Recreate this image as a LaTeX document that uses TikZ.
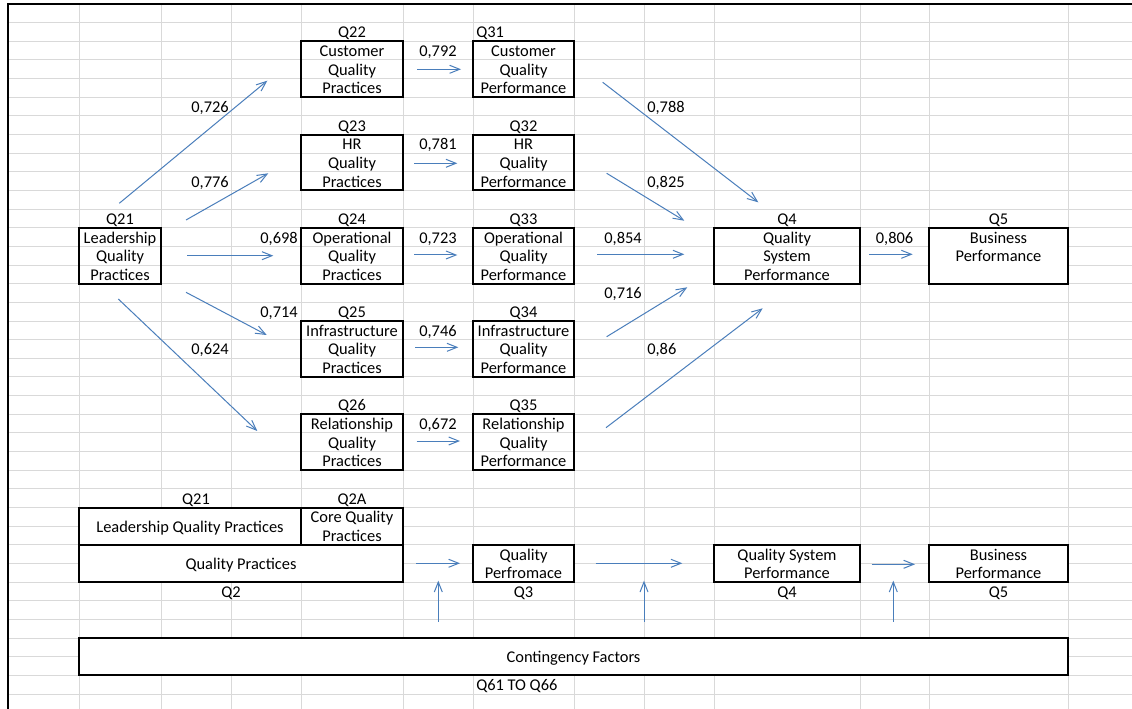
\documentclass[tikz,border=0pt]{standalone}
\usepackage{fontspec}
\setmainfont{Carlito}
\usetikzlibrary{arrows.meta}
\definecolor{gridgray}{RGB}{217,217,217}
\definecolor{arrowblue}{RGB}{74,126,187}
% one spreadsheet row: baseline sits a little above the lower row line
\newcommand\rowstrut{\rule[-2.55pt]{0pt}{13.9875pt}}
\begin{document}
\begin{tikzpicture}[x=0.75pt,y=-13.9875pt,
  every node/.style={font=\fontsize{12.3pt}{13.9875pt}\selectfont, inner sep=0pt},
  grid/.style={draw=gridgray, line width=0.75pt},
  frame/.style={draw=black, line width=1.5pt},
  box/.style={draw=black, line width=1.5pt, inner sep=0pt, outer sep=0pt, align=center},
  merged/.style={box, fill=white},
  span/.style 2 args={minimum width=#1*0.75pt, minimum height=#2*13.9875pt},
  arr/.style={draw=arrowblue, line width=0.75pt, -{Straight Barb[length=7.5pt,width=6pt]}},
]
\fill[white] (0,-0.2145) rectangle (1132,37.8016);
\useasboundingbox (0,-0.2145) rectangle (1132,37.8016);

% sheet grid
\foreach \k in {1,...,37} \draw[grid] (8,\k) -- (1132,\k);
\foreach \x in {79,161,231,301,403,473,574,644,714,860,929,1068}
  \draw[grid] (\x,0) -- (\x,37.8016);
% sheet frame
\draw[frame] (8,37.8016) -- (8,0) -- (1132,0);

% ---------- path model ----------
\node[box, span={82}{3}] (q21) at (120,13.5) {\rowstrut Leadership\\\rowstrut Quality\\\rowstrut Practices};
\node[box, span={102}{3}] (q22) at (352,3.5) {\rowstrut Customer\\\rowstrut Quality\\\rowstrut Practices};
\node[box, span={102}{3}] (q23) at (352,8.5) {\rowstrut HR\\\rowstrut Quality\\\rowstrut Practices};
\node[box, span={102}{3}] (q24) at (352,13.5) {\rowstrut Operational\\\rowstrut Quality\\\rowstrut Practices};
\node[box, span={102}{3}] (q25) at (352,18.5) {\rowstrut Infrastructure\\\rowstrut Quality\\\rowstrut Practices};
\node[box, span={102}{3}] (q26) at (352,23.5) {\rowstrut Relationship\\\rowstrut Quality\\\rowstrut Practices};
\node[box, span={101}{3}] (q31) at (523.5,3.5) {\rowstrut Customer\\\rowstrut Quality\\\rowstrut Performance};
\node[box, span={101}{3}] (q32) at (523.5,8.5) {\rowstrut HR\\\rowstrut Quality\\\rowstrut Performance};
\node[box, span={101}{3}] (q33) at (523.5,13.5) {\rowstrut Operational\\\rowstrut Quality\\\rowstrut Performance};
\node[box, span={101}{3}] (q34) at (523.5,18.5) {\rowstrut Infrastructure\\\rowstrut Quality\\\rowstrut Performance};
\node[box, span={101}{3}] (q35) at (523.5,23.5) {\rowstrut Relationship\\\rowstrut Quality\\\rowstrut Performance};
\node[box, span={146}{3}] (q4) at (787,13.5) {\rowstrut Quality\\\rowstrut System\\\rowstrut Performance};
\node[merged, span={139}{3}] (q5) at (998.5,13.5) {\rowstrut Business\\\rowstrut Performance\\\rowstrut};

% variable codes
\node (lq22) at (352,1.5) {\rowstrut Q22};
\node[anchor=west] (lq31) at (476,1.5) {\rowstrut Q31};
\node (lq23) at (352,6.5) {\rowstrut Q23};
\node (lq32) at (523.5,6.5) {\rowstrut Q32};
\node (lq21) at (120,11.5) {\rowstrut Q21};
\node (lq24) at (352,11.5) {\rowstrut Q24};
\node (lq33) at (523.5,11.5) {\rowstrut Q33};
\node (lq4) at (787,11.5) {\rowstrut Q4};
\node (lq5) at (998.5,11.5) {\rowstrut Q5};
\node (lq25) at (352,16.5) {\rowstrut Q25};
\node (lq34) at (523.5,16.5) {\rowstrut Q34};
\node (lq26) at (352,21.5) {\rowstrut Q26};
\node (lq35) at (523.5,21.5) {\rowstrut Q35};

% path coefficients
\node (c792) at (438,2.5) {\rowstrut 0,792};
\node[anchor=east] (c726) at (229,5.5) {\rowstrut 0,726};
\node[anchor=west] (c788) at (647,5.5) {\rowstrut 0,788};
\node (c781) at (438,7.5) {\rowstrut 0,781};
\node[anchor=east] (c776) at (229,9.5) {\rowstrut 0,776};
\node[anchor=west] (c825) at (647,9.5) {\rowstrut 0,825};
\node[anchor=east] (c698) at (298,12.5) {\rowstrut 0,698};
\node (c723) at (438,12.5) {\rowstrut 0,723};
\node[anchor=east] (c854) at (642,12.5) {\rowstrut 0,854};
\node (c806) at (894.5,12.5) {\rowstrut 0,806};
\node[anchor=east] (c716) at (642,15.5) {\rowstrut 0,716};
\node[anchor=east] (c714) at (298,16.5) {\rowstrut 0,714};
\node (c746) at (438,17.5) {\rowstrut 0,746};
\node[anchor=east] (c624) at (229,18.5) {\rowstrut 0,624};
\node[anchor=west] (c86) at (647,18.5) {\rowstrut 0,86};
\node (c672) at (438,22.5) {\rowstrut 0,672};

% path arrows
\coordinate (a1s) at (119.3,10.686); \coordinate (a1e) at (267.3,4.113);
\coordinate (a2s) at (186,11.582);   \coordinate (a2e) at (268.3,9.078);
\coordinate (a3s) at (187.3,13.496); \coordinate (a3e) at (273.3,13.496);
\coordinate (a4s) at (186,15.458);   \coordinate (a4e) at (266.7,17.748);
\coordinate (a5s) at (118.3,15.818); \coordinate (a5e) at (257.3,22.895);
\coordinate (b1s) at (417.3,3.501);  \coordinate (b1e) at (461,3.501);
\coordinate (b2s) at (414,8.542);    \coordinate (b2e) at (457.3,8.542);
\coordinate (b3s) at (414,13.458);   \coordinate (b3e) at (457.3,13.458);
\coordinate (b4s) at (415,18.408);   \coordinate (b4e) at (458.3,18.408);
\coordinate (b5s) at (416.7,23.432); \coordinate (b5e) at (460,23.432);
\coordinate (c1s) at (602.7,4.198);  \coordinate (c1e) at (758.3,10.633);
\coordinate (c2s) at (606.7,9.078);  \coordinate (c2e) at (684.3,11.619);
\coordinate (c3s) at (597.3,13.421); \coordinate (c3e) at (684.3,13.421);
\coordinate (c4s) at (606.7,17.839); \coordinate (c4e) at (687.3,15.190);
\coordinate (c5s) at (606,22.718);   \coordinate (c5e) at (762.7,16.316);
\coordinate (ds) at (869.3,13.421);  \coordinate (de) at (912.7,13.421);
\foreach \p in {a1,a2,a3,a4,a5,b1,b2,b3,b4,b5,c1,c2,c3,c4,c5,d}
  \draw[arr] (\p s) -- (\p e);

% ---------- summary model ----------
\node[merged, span={222}{2}] (lqp) at (190,28) {\rowstrut Leadership Quality Practices};
\node[merged, span={102}{2}] (cqp) at (352,28) {\rowstrut Core Quality\\\rowstrut Practices};
\node[merged, span={324}{2}] (qp) at (241,30) {\rowstrut Quality Practices};
\node[merged, span={101}{2}] (qperf) at (523.5,30) {\rowstrut Quality\\\rowstrut Perfromace};
\node[merged, span={146}{2}] (qsp) at (787,30) {\rowstrut Quality System\\\rowstrut Performance};
\node[merged, span={139}{2}] (bp) at (998.5,30) {\rowstrut Business\\\rowstrut Performance};
\node[merged, span={989}{2}] (cf) at (573.5,35) {\rowstrut Contingency Factors};

\node (sq21) at (196,26.5) {\rowstrut Q21};
\node (sq2a) at (352,26.5) {\rowstrut Q2A};
\node (sq2) at (231,31.5) {\rowstrut Q2};
\node (sq3) at (523.5,31.5) {\rowstrut Q3};
\node (sq4) at (787,31.5) {\rowstrut Q4};
\node (sq5) at (998.5,31.5) {\rowstrut Q5};
\node[anchor=west] (sq6) at (476,36.5) {\rowstrut Q61 TO Q66};

\coordinate (e1s) at (416,29.989);   \coordinate (e1e) at (460,29.989);
\coordinate (e2s) at (595.7,29.989); \coordinate (e2e) at (682.3,29.989);
\coordinate (e3s) at (871.7,30.043); \coordinate (e3e) at (915,30.043);
\coordinate (v1s) at (438.3,33.121); \coordinate (v1e) at (438.3,30.922);
\coordinate (v2s) at (644,33.121);   \coordinate (v2e) at (644,30.922);
\coordinate (v3s) at (893.3,33.121); \coordinate (v3e) at (893.3,30.922);
\foreach \p in {e1,e2,e3,v1,v2,v3}
  \draw[arr] (\p s) -- (\p e);
\end{tikzpicture}
\end{document}
